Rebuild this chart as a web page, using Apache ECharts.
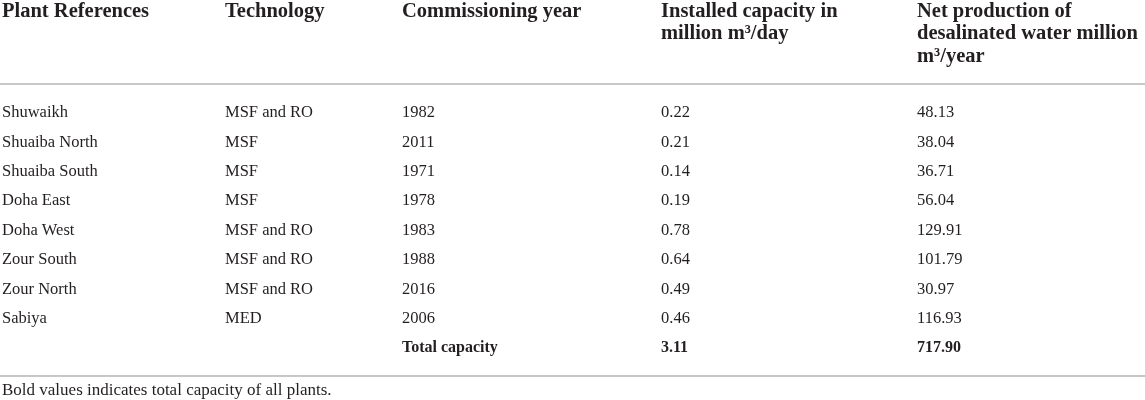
<!DOCTYPE html>
<html>
<head>
<meta charset="utf-8">
<script src="https://cdn.jsdelivr.net/npm/echarts@6/dist/echarts.min.js"></script>
<style>
	html, body { margin: 0; padding: 0; background: #fff; }
	#chart-container { width: 1145px; height: 400px; }
</style>
</head>
<body>
<div id="chart-container"></div>
<script>
const headers = [
	'Plant References',
	'Technology',
	'Commissioning year',
	'Installed capacity in\nmillion m³/day',
	'Net production of\ndesalinated water million\nm³/year',
];
const plants = ['Shuwaikh', 'Shuaiba North', 'Shuaiba South', 'Doha East', 'Doha West', 'Zour South', 'Zour North', 'Sabiya'];
const technology = ['MSF and RO', 'MSF', 'MSF', 'MSF', 'MSF and RO', 'MSF and RO', 'MSF and RO', 'MED'];
const years = [1982, 2011, 1971, 1978, 1983, 1988, 2016, 2006];
const capacity = [0.22, 0.21, 0.14, 0.19, 0.78, 0.64, 0.49, 0.46];
const production = [48.13, 38.04, 36.71, 56.04, 129.91, 101.79, 30.97, 116.93];
const totalLabel = 'Total capacity';
const totalCapacity = 3.11;
const totalProduction = 717.9;
const footnote = 'Bold values indicates total capacity of all plants.';

// layout: left edge of each column, in px of the 1145 wide canvas
const colX = [2, 225, 402, 661, 917];
const FONT = '"Liberation Serif", "Times New Roman", serif';
const INK = '#231f20';
const RULE = '#b5b5b5';

let dom = document.getElementById('chart-container');
let myChart = echarts.init(dom, null, { renderer: 'canvas' });

const rowNames = plants.concat([totalLabel]);
const rows = plants.map(function (p, i) {
	return [i, p, technology[i], String(years[i]), capacity[i].toFixed(2), production[i].toFixed(2), 0];
});
rows.push([plants.length, '', '', totalLabel, totalCapacity.toFixed(2), totalProduction.toFixed(2), 1]);

function renderRow(params, api) {
	const i = api.value(0);
	const row = rows[params.dataIndex];
	const y = api.coord([0, i])[1];
	const bold = row[6] === 1;
	const children = [];
	for (let c = 0; c < 5; c++) {
		const txt = row[c + 1];
		if (!txt) continue;
		children.push({
			type: 'text',
			x: api.coord([colX[c], i])[0],
			y: y,
			style: {
				text: txt,
				fill: INK,
				font: (bold ? 'bold 16px ' : '16.5px ') + FONT,
				textAlign: 'left',
				textVerticalAlign: 'middle',
			},
		});
	}
	return { type: 'group', children: children };
}

const headerGraphics = headers.map(function (h, c) {
	return {
		type: 'text',
		left: colX[c],
		top: 0,
		style: {
			text: h,
			fill: INK,
			font: 'bold 20.5px ' + FONT,
			lineHeight: 22.5,
		},
	};
});

let option = {
	animation: false,
	grid: { left: 0, width: 1145, top: 98.3, height: 264.4 },
	xAxis: { type: 'value', min: 0, max: 1145, show: false },
	yAxis: {
		type: 'category',
		inverse: true,
		data: rowNames,
		show: false,
	},
	graphic: headerGraphics.concat([
		{ type: 'line', shape: { x1: 0, y1: 84, x2: 1145, y2: 84 }, style: { stroke: RULE, lineWidth: 1.5 } },
		{ type: 'line', shape: { x1: 0, y1: 376, x2: 1145, y2: 376 }, style: { stroke: RULE, lineWidth: 1.5 } },
		{
			type: 'text',
			left: 2,
			top: 382,
			style: { text: footnote, fill: INK, font: '17px ' + FONT },
		},
	]),
	series: [
		{
			type: 'custom',
			renderItem: renderRow,
			encode: { y: 0 },
			data: rows.map(function (r) { return [r[0]]; }),
			silent: true,
		},
	],
};

myChart.setOption(option);
window.addEventListener('resize', myChart.resize);
</script>
</body>
</html>
